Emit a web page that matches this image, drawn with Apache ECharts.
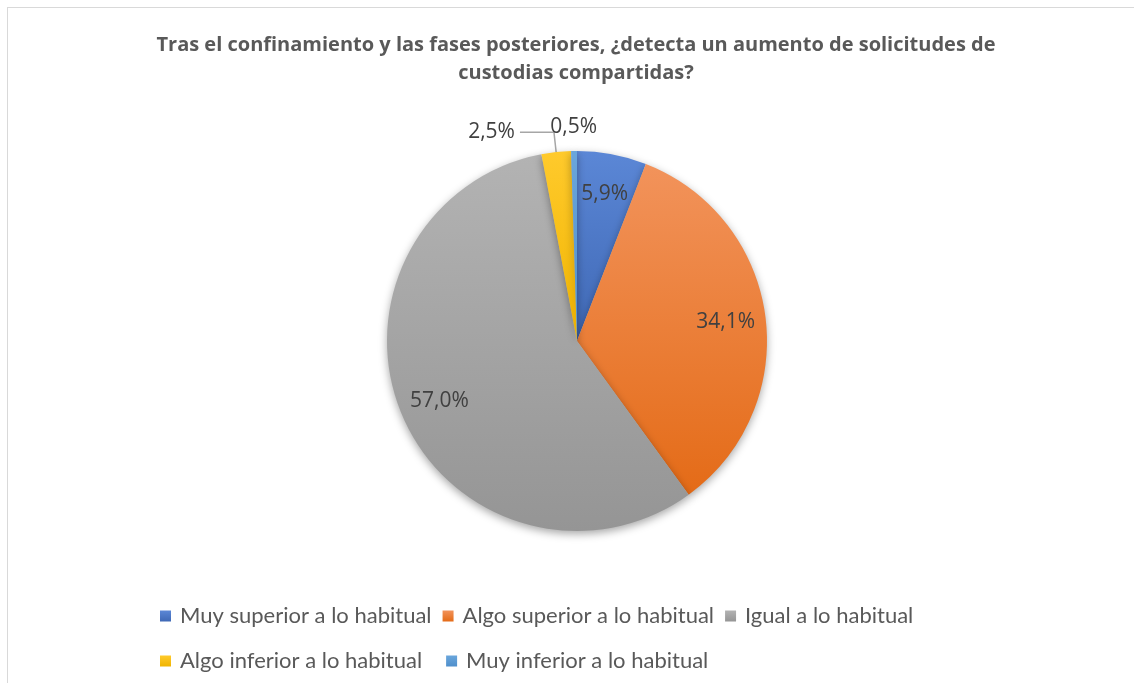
<!DOCTYPE html>
<html>
<head>
<meta charset="utf-8">
<script src="https://cdn.jsdelivr.net/npm/echarts@6/dist/echarts.min.js"></script>
<style>
  html, body { margin: 0; padding: 0; background: #fff; }
  #chart { width: 1134px; height: 683px; }
  #frame {
    position: absolute; left: 7px; top: 7px; right: 0; bottom: 0;
    border-left: 1px solid #d9d9d9; border-top: 1px solid #d9d9d9;
    pointer-events: none;
  }
</style>
</head>
<body>
<div id="chart"></div>
<div id="frame"></div>
<script>
const categories = [
  'Muy superior a lo habitual',
  'Algo superior a lo habitual',
  'Igual a lo habitual',
  'Algo inferior a lo habitual',
  'Muy inferior a lo habitual'
]
const values = [5.9, 34.1, 57.0, 2.5, 0.5]
const colorsTop = ['#5b87d6', '#f2935b', '#b3b3b3', '#ffca2c', '#6aa6dc']
const colorsBottom = ['#3f68b5', '#e46b17', '#959595', '#f0b400', '#4f8fcb']

const fmt = (p) => p.value.toFixed(1).replace('.', ',') + '%'
const grad = (i) => new echarts.graphic.LinearGradient(0, 0, 0, 1, [
  { offset: 0, color: colorsTop[i] },
  { offset: 1, color: colorsBottom[i] }
])

const center = [577, 341]
const labelFont = { fontFamily: 'Open Sans', fontSize: 21, color: '#404040' }
const legendText = { fontFamily: 'Lato', fontSize: 22, color: '#595959', padding: [0, 0, 0, 4] }

const myChart = echarts.init(document.getElementById('chart'))
myChart.setOption({
  animation: false,
  backgroundColor: '#fff',
  title: {
    text: 'Tras el confinamiento y las fases posteriores, ¿detecta un aumento de solicitudes de\ncustodias compartidas?',
    left: 576,
    top: 31,
    padding: 0,
    textAlign: 'center',
    textStyle: { fontFamily: 'Open Sans', fontSize: 20, fontWeight: 'bold', color: '#595959', lineHeight: 28 }
  },
  legend: [
    {
      data: categories.slice(0, 3),
      left: 155,
      top: 600,
      icon: 'rect',
      itemWidth: 11,
      itemHeight: 11,
      itemGap: 11,
      textStyle: legendText
    },
    {
      data: categories.slice(3),
      left: 155,
      top: 645,
      icon: 'rect',
      itemWidth: 11,
      itemHeight: 11,
      itemGap: 24,
      textStyle: legendText
    }
  ],
  series: [
    {
      type: 'pie',
      center: center,
      radius: 190,
      startAngle: 90,
      clockwise: true,
      avoidLabelOverlap: false,
      emphasis: { scale: false },
      itemStyle: { shadowBlur: 8, shadowOffsetY: 3, shadowColor: 'rgba(0,0,0,0.35)' },
      label: Object.assign({ show: false, formatter: fmt }, labelFont),
      data: categories.map((name, i) => ({
        name: name,
        value: values[i],
        itemStyle: { color: grad(i) },
        label: i === 3 ? { show: true, position: 'outside' } : { show: false },
        labelLine: i === 3
          ? { show: true, length: 20, length2: 34, lineStyle: { color: '#a6a6a6', width: 1.5 } }
          : { show: false }
      }))
    },
    {
      // inner label ring
      type: 'pie',
      center: center,
      radius: [104, 190],
      startAngle: 90,
      clockwise: true,
      silent: true,
      avoidLabelOverlap: false,
      itemStyle: { color: 'rgba(0,0,0,0)' },
      label: Object.assign({ position: 'inside', formatter: fmt }, labelFont),
      labelLine: { show: false },
      data: categories.map((name, i) => ({
        name: name,
        value: values[i],
        label: { show: i < 3 }
      }))
    },
    {
      // outer label ring for the thinnest slice
      type: 'pie',
      center: center,
      radius: [196, 226],
      startAngle: 90,
      clockwise: true,
      silent: true,
      avoidLabelOverlap: false,
      itemStyle: { color: 'rgba(0,0,0,0)' },
      label: Object.assign({ position: 'inside', formatter: fmt }, labelFont),
      labelLine: { show: false },
      data: categories.map((name, i) => ({
        name: name,
        value: values[i],
        label: { show: i === 4 }
      }))
    }
  ]
})
</script>
</body>
</html>
